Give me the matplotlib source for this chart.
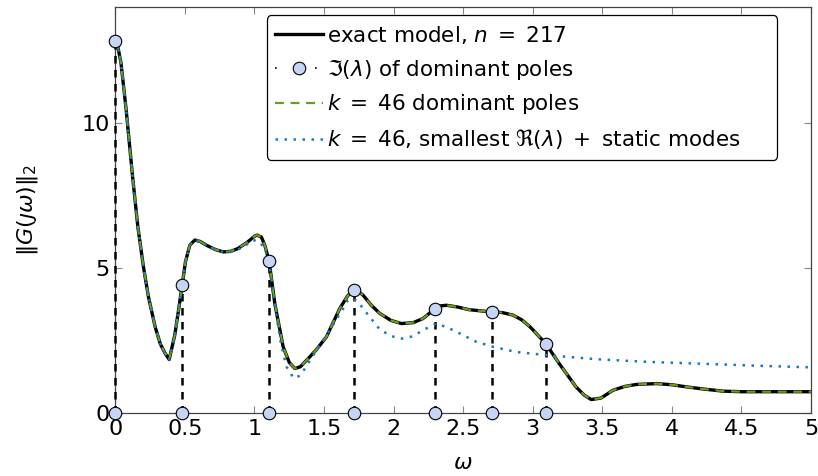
import matplotlib
matplotlib.use('Agg')
import matplotlib.pyplot as plt
from matplotlib.lines import Line2D

plt.rcParams['font.family'] = 'DejaVu Sans'
plt.rcParams['mathtext.fontset'] = 'dejavusans'

# exact model, n = 217
omega_exact = [0, 0.015, 0.04, 0.078, 0.124, 0.162, 0.202, 0.238, 0.286, 0.322, 0.358, 0.387,
               0.427, 0.456, 0.48, 0.504, 0.535, 0.571, 0.61, 0.655, 0.72, 0.775, 0.83, 0.882,
               0.95, 1.0, 1.019, 1.05, 1.074, 1.105, 1.146, 1.206, 1.25, 1.29, 1.33, 1.397,
               1.45, 1.517, 1.613, 1.67, 1.708, 1.74, 1.78, 1.84, 1.90, 1.98, 2.056, 2.14,
               2.21, 2.295, 2.34, 2.38, 2.46, 2.54, 2.62, 2.707, 2.78, 2.858, 2.92, 2.98,
               3.093, 3.19, 3.31, 3.37, 3.42, 3.49, 3.576, 3.66, 3.744, 3.888, 4.0, 4.10,
               4.23, 4.366, 4.5, 4.65, 4.8, 5.0]
mag_exact = [12.84, 12.7, 12.1, 10.45, 8.15, 6.42, 5.04, 4.01, 2.98, 2.40, 2.06, 1.85,
             2.69, 3.61, 4.41, 5.22, 5.79, 5.97, 5.92, 5.79, 5.64, 5.56, 5.58, 5.68,
             5.90, 6.10, 6.14, 6.07, 5.79, 5.25, 3.78, 2.29, 1.75, 1.54, 1.60, 1.94,
             2.22, 2.63, 3.61, 4.05, 4.24, 4.22, 4.07, 3.72, 3.44, 3.20, 3.09, 3.12,
             3.26, 3.59, 3.70, 3.72, 3.66, 3.57, 3.53, 3.49, 3.47, 3.38, 3.22, 2.98,
             2.40, 1.71, 0.91, 0.62, 0.47, 0.52, 0.79, 0.92, 0.99, 1.02, 0.98, 0.91,
             0.83, 0.76, 0.74, 0.74, 0.74, 0.74]

# k = 46 dominant poles (indistinguishable from the exact model)
omega_dom = list(omega_exact)
mag_dom = list(mag_exact)

# k = 46, smallest Re(lambda) + static modes
omega_re = [0, 0.015, 0.04, 0.078, 0.124, 0.162, 0.202, 0.238, 0.286, 0.322, 0.358, 0.387,
            0.427, 0.456, 0.48, 0.504, 0.535, 0.571, 0.61, 0.655, 0.72, 0.775, 0.83, 0.882,
            0.94, 0.99, 1.04, 1.08, 1.115, 1.15, 1.19, 1.23, 1.282, 1.33, 1.37, 1.45,
            1.54, 1.637, 1.672, 1.713, 1.75, 1.80, 1.90, 1.98, 2.056, 2.14, 2.21, 2.307,
            2.36, 2.43, 2.595, 2.714, 2.88, 3.10, 3.46, 3.82, 4.30, 4.65, 5.0]
mag_re = [12.84, 12.7, 12.1, 10.45, 8.15, 6.42, 5.04, 4.01, 2.98, 2.40, 2.06, 1.85,
          2.69, 3.61, 4.41, 5.22, 5.79, 5.97, 5.92, 5.79, 5.64, 5.55, 5.56, 5.64,
          5.80, 5.97, 5.90, 5.60, 4.90, 3.60, 2.40, 1.60, 1.20, 1.30, 1.60, 2.20,
          2.86, 3.60, 3.90, 3.95, 3.80, 3.49, 2.89, 2.66, 2.57, 2.65, 2.86, 3.09,
          3.00, 2.86, 2.46, 2.29, 2.11, 2.00, 1.86, 1.77, 1.69, 1.63, 1.58]

# Im(lambda) of dominant poles and |G| there
pole_omega = [0, 0.478, 1.105, 1.712, 2.295, 2.707, 3.093]
pole_mag = [12.84, 4.41, 5.25, 4.24, 3.59, 3.49, 2.40]

marker_face = '#c6d5f5'
green = '#6a9a1f'
blue = '#1a7ab8'

fig = plt.figure(figsize=(8.18, 4.76), dpi=100)
ax = fig.add_axes([0.141, 0.132, 0.8505, 0.853])

ax.plot(omega_exact, mag_exact, color='black', lw=2.4, zorder=3,
        solid_capstyle='round', solid_joinstyle='round')
ax.plot(omega_dom, mag_dom, color=green, lw=1.6, ls=(0, (4, 3)), zorder=4)
ax.plot(omega_re, mag_re, color=blue, lw=1.8, ls=(0, (1, 2.6)), zorder=5)

for w, m in zip(pole_omega, pole_mag):
    ax.plot([w, w], [0, m], color='black', lw=1.8, ls=(0, (3, 2.6)), zorder=2.7,
            clip_on=False)
ax.plot(pole_omega, pole_mag, ls='none', marker='o', ms=9, mfc=marker_face,
        mec='black', mew=0.8, zorder=7, clip_on=False)
ax.plot(pole_omega, [0] * len(pole_omega), ls='none', marker='o', ms=9, mfc=marker_face,
        mec='black', mew=0.8, zorder=7, clip_on=False)

ax.set_xlim(0, 5)
ax.set_ylim(0, 14)
ax.set_xticks([0, 0.5, 1, 1.5, 2, 2.5, 3, 3.5, 4, 4.5, 5])
ax.set_xticklabels(['0', '0.5', '1', '1.5', '2', '2.5', '3', '3.5', '4', '4.5', '5'])
ax.set_yticks([0, 5, 10])
ax.tick_params(direction='in', top=True, right=True, length=5, width=0.8,
               color='#888888', labelsize=16, pad=4)
for s in ax.spines.values():
    s.set_color('#444444')
    s.set_linewidth(0.9)

ax.set_xlabel(r'$\omega$', fontsize=16, labelpad=10)
ax.set_ylabel(r'$\|G(\jmath\omega)\|_2$', fontsize=16, labelpad=30)

handles = [
    Line2D([], [], color='black', lw=2.4),
    Line2D([], [], color='black', lw=1.2, ls=(0, (1, 11)), marker='o', ms=9,
           mfc=marker_face, mec='black', mew=0.8),
    Line2D([], [], color=green, lw=1.6, ls=(0, (4, 3))),
    Line2D([], [], color=blue, lw=1.8, ls=(0, (1, 2.6))),
]
labels = [r'exact model, $n\;=\;217$',
          r'$\Im(\lambda)$ of dominant poles',
          r'$k\;=\;46$ dominant poles',
          r'$k\;=\;46$, smallest $\Re(\lambda)\;+$ static modes']
leg = ax.legend(handles, labels, loc='upper left', mode='expand',
                bbox_to_anchor=(0.2178, 0.616, 0.733, 0.364),
                borderaxespad=0, fontsize=15.5, handlelength=2.2, handletextpad=0.2,
                labelspacing=0.5, borderpad=0.4, fancybox=True, framealpha=1,
                edgecolor='black')
leg.get_frame().set_linewidth(0.9)
leg.set_zorder(10)

fig.savefig('out.png', dpi=100)
